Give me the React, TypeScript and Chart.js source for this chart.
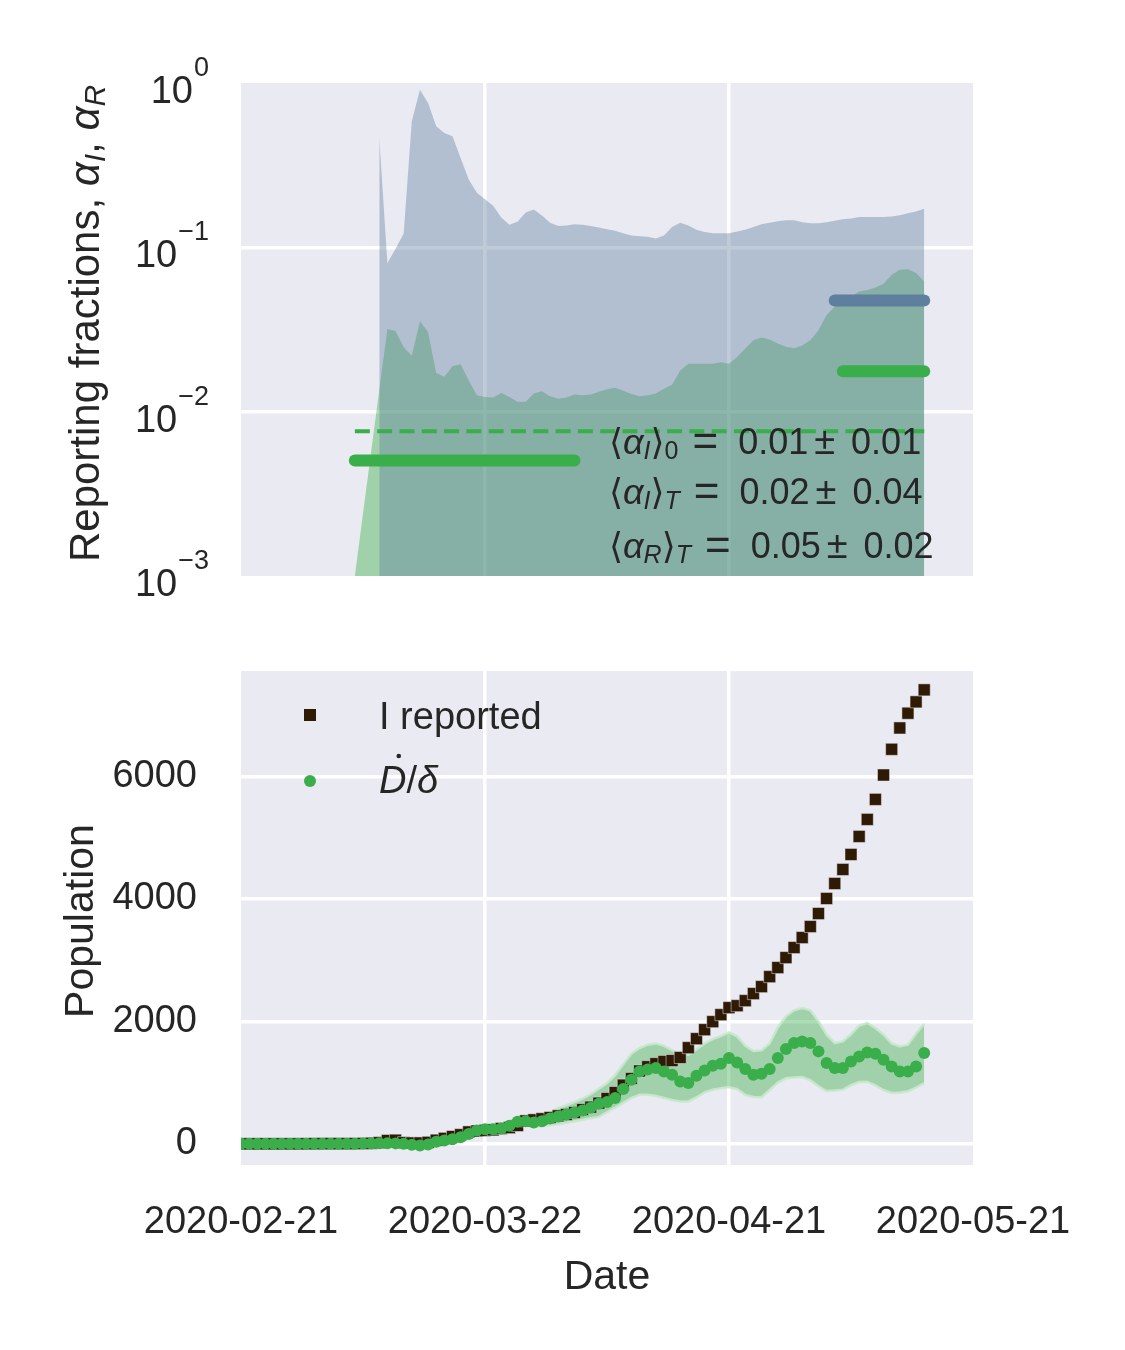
import { useEffect, useRef } from "react";
import { Chart, registerables } from "chart.js";
Chart.register(...registerables);

// x axis: days since 2020-02-21
const dayTicks = [0, 30, 60, 90];
const dateLabels = ["2020-02-21", "2020-03-22", "2020-04-21", "2020-05-21"];
const logTicks = [1e-3, 1e-2, 1e-1, 1];
const popTicks = [0, 2000, 4000, 6000];

// top panel: upper edge of the alpha_R band (starts day 17)
const alphaRStart = 17;
const alphaRUpper = [
  0.463, 0.08, 0.098, 0.121, 0.585, 0.91, 0.755, 0.545, 0.496, 0.474,
  0.35, 0.259, 0.215, 0.196, 0.179, 0.152, 0.137, 0.143, 0.163, 0.17,
  0.156, 0.141, 0.135, 0.136, 0.138, 0.137, 0.135, 0.132, 0.129, 0.126,
  0.122, 0.118, 0.117, 0.116, 0.113, 0.118, 0.133, 0.141, 0.136, 0.128,
  0.124, 0.122, 0.122, 0.122, 0.125, 0.128, 0.133, 0.138, 0.141, 0.144,
  0.146, 0.146, 0.142, 0.14, 0.14, 0.142, 0.145, 0.148, 0.15, 0.153,
  0.153, 0.153, 0.153, 0.154, 0.157, 0.161, 0.165, 0.172,
];
// upper edge of the alpha_I band (starts day 14)
const alphaIStart = 14;
const alphaIUpper = [
  0.001, 0.0024, 0.0057, 0.0135, 0.0319, 0.031, 0.0247, 0.0219, 0.0355, 0.0305,
  0.0172, 0.0163, 0.0189, 0.0194, 0.0155, 0.0126, 0.0123, 0.0122, 0.013, 0.0123,
  0.0115, 0.0115, 0.0129, 0.0133, 0.0124, 0.012, 0.0122, 0.0127, 0.0126, 0.0127,
  0.0132, 0.0137, 0.014, 0.0134, 0.0128, 0.0124, 0.0126, 0.0129, 0.0138, 0.0146,
  0.0178, 0.0196, 0.0196, 0.0196, 0.0196, 0.02, 0.0196, 0.0215, 0.0242, 0.0272,
  0.0283, 0.0275, 0.026, 0.0248, 0.0243, 0.0253, 0.0272, 0.0313, 0.0387, 0.0435,
  0.047, 0.05, 0.0538, 0.055, 0.057, 0.06, 0.068, 0.073, 0.0736, 0.0697, 0.062,
];
// fitted averages: [first day, last day], value
const alphaI0Days = [14, 41];
const alphaI0Value = 0.00505;
const alphaIMeanDays = [14, 84];
const alphaIMeanValue = 0.0076;
const alphaITDays = [74, 84];
const alphaITValue = 0.0176;
const alphaRTDays = [73, 84];
const alphaRTValue = 0.0475;
const fitLabels = [
  { sub: "I", idx: "0", val: "0.01", err: "0.01" },
  { sub: "I", idx: "T", val: "0.02", err: "0.04" },
  { sub: "R", idx: "T", val: "0.05", err: "0.02" },
];

// bottom panel, one value per day from day 0
const iReported = [
  0, 0, 0, 0, 0, 0, 0, 0, 1, 2, 3, 3, 3, 3, 4,
  6, 10, 20, 55, 60, 20, 15, 15, 25, 60,
  90, 120, 150, 195, 210, 220, 228, 250, 265, 300,
  375, 392, 410, 430, 458, 480, 512, 560, 600, 665,
  741, 839, 959, 1068, 1190, 1260, 1310, 1346, 1360, 1410,
  1570, 1717, 1864, 1995, 2109, 2224, 2256, 2338, 2453, 2567,
  2730, 2878, 3041, 3205, 3368, 3548, 3760, 4006, 4251, 4480,
  4725, 5019, 5297, 5624, 6022, 6442, 6790, 7031, 7216, 7412,
];
const dDelta = [
  0, 0, 0, 0, 0, 0, 0, 0, 0, 0, 0, 0, 0, 2, 3,
  5, 8, 10, 12, 8, 0, -15, -25, -10, 33,
  54, 76, 109, 163, 218, 240, 240, 251, 294, 360,
  371, 349, 371, 414, 447, 480, 512, 545, 589, 654,
  685, 750, 894, 1046, 1180, 1215, 1240, 1183, 1128, 1019,
  992, 1112, 1199, 1275, 1308, 1401, 1330, 1221, 1128, 1145,
  1221, 1401, 1548, 1646, 1673, 1646, 1510, 1319, 1237, 1237,
  1346, 1428, 1493, 1471, 1373, 1264, 1183, 1183, 1264, 1482,
];
const dDeltaHi = [
  5, 5, 5, 5, 5, 5, 5, 5, 5, 5, 5, 5, 5, 7, 8,
  10, 14, 16, 18, 14, 8, -5, -12, 5, 48,
  72, 98, 135, 195, 255, 282, 286, 302, 350, 425,
  442, 425, 455, 510, 583, 630, 680, 740, 810, 900,
  990, 1120, 1300, 1470, 1564, 1620, 1640, 1600, 1530, 1470,
  1450, 1540, 1640, 1711, 1760, 1820, 1755, 1600, 1515, 1526,
  1640, 1900, 2080, 2180, 2218, 2180, 2000, 1782, 1646, 1673,
  1790, 1930, 1973, 1891, 1782, 1640, 1591, 1620, 1800, 1960,
];
const dDeltaLo = [
  -5, -5, -5, -5, -5, -5, -5, -5, -5, -5, -5, -5, -5, -3, -2,
  0, 3, 5, 6, 2, -8, -25, -38, -25, 18,
  36, 54, 83, 130, 180, 198, 194, 200, 238, 295,
  300, 275, 290, 305, 320, 345, 370, 395, 420, 440,
  520, 590, 670, 750, 800, 800, 785, 750, 715, 692,
  692, 760, 840, 883, 910, 927, 895, 800, 765, 763,
  880, 1000, 1070, 1085, 1090, 1040, 940, 862, 870, 885,
  960, 1010, 1015, 955, 880, 830, 838, 860, 920, 992,
];

const FONT = "'Liberation Sans', Arial, 'DejaVu Sans', sans-serif";
const TEXT = "#262626";
const PANEL = "#eaeaf2";
const GREEN = "#3aae4a";
const BLUE = "#5f7f9e";
const BROWN = "#2e1a05";

const pts = (arr: number[], start = 0) => arr.map((y, i) => ({ x: start + i, y }));
const seg = (days: number[], v: number) => days.map((x) => ({ x, y: v }));

type Piece = { t: string; size: number; italic?: boolean; dy?: number; gap?: number };
const fontOf = (p: Piece) => `${p.italic ? "italic " : ""}${p.size}px ${FONT}`;
function richWidth(ctx: CanvasRenderingContext2D, pieces: Piece[]) {
  let w = 0;
  for (const p of pieces) {
    ctx.font = fontOf(p);
    w += (p.gap ?? 0) + ctx.measureText(p.t).width;
  }
  return w;
}
function drawRich(ctx: CanvasRenderingContext2D, pieces: Piece[], x: number, y: number) {
  let cx = x;
  ctx.textAlign = "left";
  for (const p of pieces) {
    cx += p.gap ?? 0;
    ctx.font = fontOf(p);
    ctx.fillText(p.t, cx, y + (p.dy ?? 0));
    cx += ctx.measureText(p.t).width;
  }
}
function drawVertical(ctx: CanvasRenderingContext2D, pieces: Piece[], x: number, cy: number) {
  ctx.save();
  ctx.translate(x, cy);
  ctx.rotate(-Math.PI / 2);
  drawRich(ctx, pieces, -richWidth(ctx, pieces) / 2, 0);
  ctx.restore();
}

const panelBg = {
  id: "panelBg",
  beforeDraw(chart: any) {
    const { ctx, chartArea: a } = chart;
    ctx.save();
    ctx.fillStyle = PANEL;
    ctx.fillRect(a.left, a.top, a.right - a.left, a.bottom - a.top);
    ctx.restore();
  },
};

const topText = {
  id: "topText",
  afterDraw(chart: any) {
    const { ctx, chartArea: a } = chart;
    const y = chart.scales.y;
    ctx.save();
    ctx.fillStyle = TEXT;
    ctx.textAlign = "left";
    ctx.textBaseline = "alphabetic";
    for (const v of logTicks) {
      const py = y.getPixelForValue(v);
      const e = Math.round(Math.log10(v));
      const sup = e < 0 ? "\u2212" + -e : String(e);
      ctx.font = `38px ${FONT}`;
      const w10 = ctx.measureText("10").width;
      ctx.font = `27px ${FONT}`;
      const ws = ctx.measureText(sup).width;
      const x0 = a.left - 32 - ws - w10 - 1;
      ctx.font = `38px ${FONT}`;
      ctx.fillText("10", x0, py + 20);
      ctx.font = `27px ${FONT}`;
      ctx.fillText(sup, x0 + w10 + 1, py - 7);
    }
    drawVertical(
      ctx,
      [
        { t: "Reporting fractions, ", size: 42 },
        { t: "\u03b1", size: 42, italic: true },
        { t: "I", size: 30, italic: true, dy: 6 },
        { t: ", ", size: 42 },
        { t: "\u03b1", size: 42, italic: true },
        { t: "R", size: 30, italic: true, dy: 6 },
      ],
      99,
      (a.top + a.bottom) / 2 - 6
    );
    const baselines = [371, 421, 475];
    fitLabels.forEach((f, i) => {
      const isDigit = /\d/.test(f.idx);
      drawRich(
        ctx,
        [
          { t: "\u27e8", size: 36 },
          { t: "\u03b1", size: 36, italic: true },
          { t: f.sub, size: 25, italic: true, dy: 5 },
          { t: "\u27e9", size: 36 },
          { t: f.idx, size: 25, italic: !isDigit, dy: 5 },
          { t: "=", size: 44, gap: 14, dy: 2 },
          { t: f.val, size: 36, gap: 20 },
          { t: "\u00b1", size: 38, gap: 6 },
          { t: f.err, size: 36, gap: 16 },
        ],
        a.left + 368,
        a.top + baselines[i]
      );
    });
    ctx.restore();
  },
};

const bottomText = {
  id: "bottomText",
  afterDraw(chart: any) {
    const { ctx, chartArea: a } = chart;
    ctx.save();
    ctx.fillStyle = TEXT;
    ctx.textBaseline = "alphabetic";
    // legend
    const mx = a.left + 69;
    ctx.fillStyle = BROWN;
    ctx.fillRect(mx - 6, a.top + 44 - 6, 12, 12);
    ctx.fillStyle = GREEN;
    ctx.beginPath();
    ctx.arc(mx, a.top + 110, 6, 0, Math.PI * 2);
    ctx.fill();
    ctx.fillStyle = TEXT;
    ctx.textAlign = "left";
    ctx.font = `38px ${FONT}`;
    ctx.fillText("I reported", a.left + 138, a.top + 58);
    const tx = a.left + 138;
    const by = a.top + 122;
    ctx.font = `italic 38px ${FONT}`;
    const wD = ctx.measureText("D").width;
    drawRich(
      ctx,
      [
        { t: "D", size: 38, italic: true },
        { t: "/", size: 38 },
        { t: "\u03b4", size: 38, italic: true },
      ],
      tx,
      by
    );
    ctx.beginPath();
    ctx.arc(tx + wD * 0.72, by - 37, 2.3, 0, Math.PI * 2);
    ctx.fill();
    // axis titles
    ctx.textAlign = "center";
    ctx.font = `41px ${FONT}`;
    ctx.fillText("Date", (a.left + a.right) / 2, a.bottom + 124);
    drawVertical(ctx, [{ t: "Population", size: 41 }], 93, (a.top + a.bottom) / 2 + 3);
    ctx.restore();
  },
};

// white grid, but no line on the panel border
const gridFor = (min: number, max: number) => ({
  color: (c: any) => (c.tick && (c.tick.value === min || c.tick.value === max) ? "rgba(0,0,0,0)" : "#ffffff"),
  lineWidth: 3.5,
  drawTicks: false,
});
const xScale = (labels: boolean, height: number) => ({
  type: "linear",
  min: 0,
  max: 90,
  afterBuildTicks: (s: any) => {
    s.ticks = dayTicks.map((value) => ({ value }));
  },
  afterFit: (s: any) => {
    s.height = height;
    s.paddingLeft = 0;
    s.paddingRight = 0;
  },
  grid: gridFor(0, 90),
  border: { display: false },
  ticks: {
    display: labels,
    autoSkip: false,
    maxRotation: 0,
    padding: 35,
    color: TEXT,
    font: { family: FONT, size: 38 },
    callback: (v: any) => dateLabels[dayTicks.indexOf(Number(v))] ?? "",
  },
});
const yFit = (s: any) => {
  s.width = 241;
  s.paddingTop = 0;
  s.paddingBottom = 0;
};

export default function App() {
  const topRef = useRef<HTMLCanvasElement>(null);
  const botRef = useRef<HTMLCanvasElement>(null);

  useEffect(() => {
    document.body.style.margin = "0";
    if (!topRef.current || !botRef.current) return;

    const top = new Chart(topRef.current, {
      type: "line",
      data: {
        datasets: [
          { data: seg(alphaRTDays, alphaRTValue), borderColor: BLUE, borderWidth: 12, borderCapStyle: "round", pointRadius: 0, fill: false },
          { data: seg(alphaITDays, alphaITValue), borderColor: GREEN, borderWidth: 12, borderCapStyle: "round", pointRadius: 0, fill: false },
          { data: seg(alphaI0Days, alphaI0Value), borderColor: GREEN, borderWidth: 12, borderCapStyle: "round", pointRadius: 0, fill: false },
          { data: seg(alphaIMeanDays, alphaIMeanValue), borderColor: GREEN, borderWidth: 4, borderDash: [15, 7.3], pointRadius: 0, fill: false },
          { data: pts(alphaRUpper, alphaRStart), fill: "start", backgroundColor: "rgba(95,127,158,0.4)", borderColor: "transparent", borderWidth: 0, pointRadius: 0 },
          { data: pts(alphaIUpper, alphaIStart), fill: "start", backgroundColor: "rgba(58,174,74,0.42)", borderColor: "transparent", borderWidth: 0, pointRadius: 0 },
        ] as any,
      },
      options: {
        responsive: false,
        animation: false,
        events: [],
        layout: { padding: { top: 83, right: 152, left: 0, bottom: 0 } },
        plugins: { legend: { display: false }, tooltip: { enabled: false }, filler: { drawTime: "beforeDatasetsDraw" } },
        scales: {
          x: xScale(false, 44) as any,
          y: {
            type: "logarithmic",
            min: 1e-3,
            max: 1,
            afterBuildTicks: (s: any) => {
              s.ticks = logTicks.map((value) => ({ value }));
            },
            afterFit: yFit,
            grid: gridFor(1e-3, 1),
            border: { display: false },
            ticks: { display: false },
          },
        },
      },
      plugins: [panelBg, topText],
    });

    const bot = new Chart(botRef.current, {
      type: "line",
      data: {
        datasets: [
          { data: pts(dDelta), showLine: false, pointRadius: 6, pointBackgroundColor: GREEN, pointBorderWidth: 0, fill: false },
          { data: pts(iReported), showLine: false, pointStyle: "rect", pointRadius: 8.5, pointBackgroundColor: BROWN, pointBorderColor: "rgba(234,234,242,0.5)", pointBorderWidth: 1, fill: false },
          { data: pts(dDeltaHi), fill: "+1", backgroundColor: "rgba(58,174,74,0.42)", borderColor: "rgba(200,232,204,0.9)", borderWidth: 2.5, pointRadius: 0 },
          { data: pts(dDeltaLo), fill: false, borderColor: "rgba(200,232,204,0.9)", borderWidth: 2.5, pointRadius: 0 },
        ] as any,
      },
      options: {
        responsive: false,
        animation: false,
        events: [],
        layout: { padding: { top: 51, right: 152, left: 0, bottom: 0 } },
        plugins: { legend: { display: false }, tooltip: { enabled: false }, filler: { drawTime: "beforeDatasetsDraw" } },
        scales: {
          x: xScale(true, 185) as any,
          y: {
            type: "linear",
            min: -345,
            max: 7720,
            afterBuildTicks: (s: any) => {
              s.ticks = popTicks.map((value) => ({ value }));
            },
            afterFit: yFit,
            grid: gridFor(-345, 7720),
            border: { display: false },
            ticks: { padding: 44, color: TEXT, font: { family: FONT, size: 38 }, callback: (v: any) => String(v) },
          },
        },
      },
      plugins: [panelBg, bottomText],
    });

    return () => {
      top.destroy();
      bot.destroy();
    };
  }, []);

  return (
    <div style={{ position: "relative", width: 1125, height: 1350, background: "#ffffff" }}>
      <canvas ref={topRef} width={1125} height={620} style={{ position: "absolute", left: 0, top: 0, width: 1125, height: 620 }} />
      <canvas ref={botRef} width={1125} height={730} style={{ position: "absolute", left: 0, top: 620, width: 1125, height: 730 }} />
    </div>
  );
}
